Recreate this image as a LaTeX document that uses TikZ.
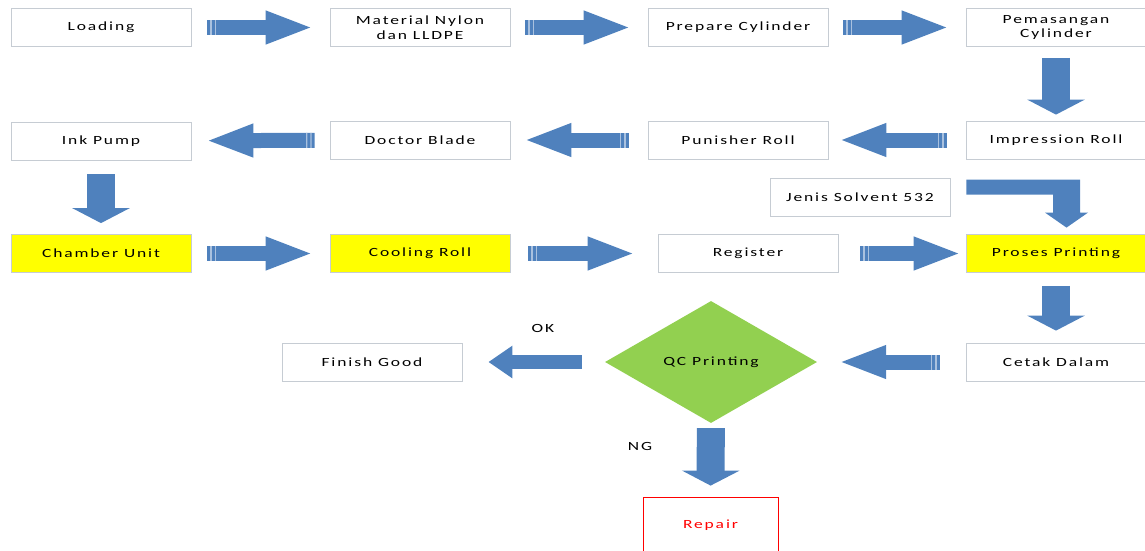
\documentclass[tikz,border=0pt]{standalone}
\usepackage{fontspec}
\setmainfont{Carlito}[FakeStretch=1.4,LetterSpace=15]
\usetikzlibrary{arrows.meta,shapes.geometric,calc}

\definecolor{arrowblue}{HTML}{4F81BD}
\definecolor{stripe}{HTML}{A9C1DF}
\definecolor{boxline}{HTML}{C6CCD3}
\definecolor{qcgreen}{HTML}{92D050}
\definecolor{hlyellow}{HTML}{FFFF00}

\tikzset{
  box/.style={draw=boxline, line width=0.8pt, fill=white, minimum width=180pt, minimum height=38pt, align=center, inner sep=1pt, font=\fontsize{12.5}{14.5}\selectfont},
  hl/.style={box, fill=hlyellow},
  flow/.style={draw=arrowblue, line width=15pt, -{Triangle[length=48pt,width=30pt]},
    postaction={draw=stripe, -, line width=15pt, dash pattern=on 0pt off 3pt on 1.2pt off 3pt on 1.2pt off 2000pt}},
  drop/.style={draw=arrowblue, line width=28pt, -{Triangle[length=15pt,width=57pt]}},
  plainflow/.style={draw=arrowblue, line width=14pt, -{Triangle[length=24pt,width=31pt]}},
  lbl/.style={font=\fontsize{12.5}{14.5}\selectfont, inner sep=1pt}
}

\begin{document}
\begin{tikzpicture}[x=1pt,y=1pt,yscale=-1,xscale=1]
\useasboundingbox (0,0) rectangle (1145,551);

%Shape: Rectangle -- first row
\node[box] (load) at (101,27.5) {Loading};
\node[box] (nylon) at (420,27.5) {Material Nylon\\dan LLDPE};
\node[box] (prep) at (738,27.5) {Prepare Cylinder};
\node[box] (pasang) at (1056,27.5) {Pemasangan\\Cylinder};

%Shape: Rectangle -- second row
\node[box] (ink) at (101,141) {Ink Pump};
\node[box] (doctor) at (420,140) {Doctor Blade};
\node[box] (punisher) at (738,140) {Punisher Roll};
\node[box] (impress) at (1056,140) {Impression Roll};
\node[box] (solvent) at (860,197) {Jenis Solvent 532};

%Shape: Rectangle -- third row
\node[hl] (chamber) at (101,253.5) {Chamber Unit};
\node[hl] (cooling) at (420,253.5) {Cooling Roll};
\node[box] (register) at (748,253.5) {Register};
\node[hl] (proses) at (1056,253.5) {Proses Printing};

%Shape: Diamond and the rest
\node[box] (finish) at (372,362) {Finish Good};
\node[diamond, fill=qcgreen, minimum width=212pt, minimum height=122pt, inner sep=0pt, font=\fontsize{12.5}{14.5}\selectfont] (qc) at (711,362) {QC Printing};
\node[box] (cetak) at (1056,362) {Cetak Dalam};
\node[box, draw=red, text=red, minimum width=135pt, minimum height=56pt] (repair) at (710.5,525) {Repair};

% Text Node
\node[lbl] (ok) at (543,328) {OK};
% Text Node
\node[lbl] (ng) at (640,446) {NG};

%Block Arrows
\draw[flow, shorten <=16pt, shorten >=16pt] (load) -- (nylon);
\draw[flow, shorten <=15pt, shorten >=16pt] (nylon) -- (prep);
\draw[flow, shorten <=15pt, shorten >=16pt] (prep) -- (pasang);
\draw[drop, shorten <=11pt, shorten >=6pt] (pasang) -- (impress);
\draw[flow, shorten <=19pt, shorten >=10pt] (impress) -- (punisher);
\draw[flow, shorten <=19pt, shorten >=13pt] (punisher) -- (doctor);
\draw[flow, shorten <=15pt, shorten >=14pt] (doctor) -- (ink);
\draw[drop, shorten <=14pt, shorten >=11pt] (ink) -- (chamber);
\draw[flow, shorten <=16pt, shorten >=16pt] (chamber) -- (cooling);
\draw[flow, shorten <=18pt, shorten >=22pt] (cooling) -- (register);
\draw[flow, shorten <=22pt, shorten >=4pt] (register) -- (proses);
\draw[drop, shorten <=13pt, shorten >=12pt] (proses) -- (cetak);
\draw[flow, shorten <=26pt, shorten >=21pt] (cetak) -- (qc);
\draw[plainflow, shorten <=23pt, shorten >=26pt] (qc) -- (finish);
\draw[drop, shorten <=5pt, shorten >=11pt] (qc) -- (repair);

%Bent Arrow
\coordinate (bs) at ($(solvent.north east)+(16,2)$);
\coordinate (bt) at ($(proses.north)+(10.5,-6.5)$);
\fill[arrowblue] (bs) -- ($(bs -| bt)+(13.5,0)$) -- ($(bt)+(13.5,-15)$) -- ($(bt)+(21.5,-15)$) -- (bt)
  -- ($(bt)+(-21.5,-15)$) -- ($(bt)+(-13.5,-15)$) -- ($(bs -| bt)+(-13.5,15)$) -- ($(bs)+(0,15)$) -- cycle;

\end{tikzpicture}
\end{document}
